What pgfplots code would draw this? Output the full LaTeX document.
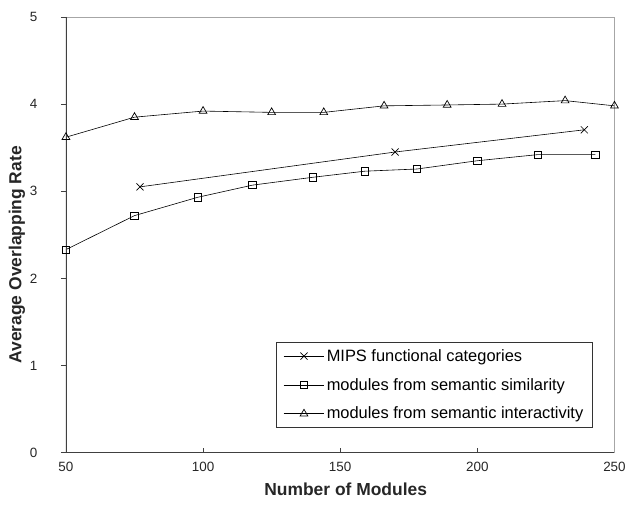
\documentclass[border=0pt]{standalone}
\usepackage{fontspec}
\setmainfont{Liberation Sans}
\usepackage{pgfplots}
\pgfplotsset{compat=1.18}

\begin{document}
\begin{tikzpicture}
\begin{axis}[
    name=ax,
    scale only axis,
    width=549bp, height=436bp,
    xmin=50, xmax=250, ymin=0, ymax=5,
    xtick={50,100,150,200,250},
    ytick={0,1,2,3,4,5},
    xtick pos=left, ytick pos=left,
    xtick align=inside, ytick align=outside,
    major tick length=5bp,
    tick style={black!75, line width=0.8pt},
    axis line style={gray!70, line width=0.8pt},
    /pgf/number format/assume math mode=true,
    ticklabel style={font=\fontsize{13.5}{15}\selectfont, text=black!85},
    xticklabel style={yshift=-6bp},
    yticklabel style={xshift=-20bp},
    xlabel={\textbf{Number of Modules}},
    ylabel={\textbf{Average Overlapping Rate}},
    every axis x label/.style={at={(rel axis cs:0.51,0)}, yshift=-37bp, anchor=center,
        font=\fontsize{17.5}{20}\selectfont, text=black!85},
    every axis y label/.style={at={(rel axis cs:0,0.454)}, xshift=-49bp, rotate=90, anchor=center,
        font=\fontsize{17.5}{20}\selectfont, text=black!85},
    legend cell align=left,
    legend style={
        at={(0.96,0.057)}, anchor=south east,
        draw=black!80, line width=0.6pt,
        font=\fontsize{16.5}{19}\selectfont,
        row sep=11.5bp, inner xsep=7bp, inner ysep=5bp,
        /tikz/every even column/.append style={column sep=0bp}
    },
    legend image code/.code={
        \draw[#1, mark=none] (0bp,0bp) -- (41bp,0bp);
        \draw[#1, only marks] plot coordinates {(20.5bp,0bp)};
    },
]
\addplot[black, line width=0.6pt, mark=x, mark size=5bp, mark options={solid, line width=0.7pt}]
coordinates {
    (77, 3.05)
    (170, 3.45)
    (239, 3.705)
};
\addplot[black, line width=0.6pt, mark=square, mark size=3.7bp, mark options={solid, line width=0.7pt}]
coordinates {
    (50, 2.33)
    (75, 2.72)
    (98, 2.93)
    (118, 3.07)
    (140, 3.16)
    (159, 3.23)
    (178, 3.255)
    (200, 3.35)
    (222, 3.42)
    (243, 3.42)
};
\addplot[black, line width=0.6pt, mark=triangle, mark size=4.5bp, mark options={solid, line width=0.7pt}]
coordinates {
    (50, 3.62)
    (75, 3.85)
    (100, 3.92)
    (125, 3.905)
    (144, 3.905)
    (166, 3.98)
    (189, 3.99)
    (209, 4.00)
    (232, 4.04)
    (250, 3.98)
};
\legend{MIPS functional categories, modules from semantic similarity, modules from semantic interactivity}
\draw[black!75, line width=1.3pt] (rel axis cs:0,1) -- (rel axis cs:0,0) -- (rel axis cs:1,0);
\end{axis}
% keep the reference's margins around the axis
\path (ax.south west) ++(-66bp,-72bp) (ax.north east) ++(14bp,17bp);
\end{tikzpicture}
\end{document}
